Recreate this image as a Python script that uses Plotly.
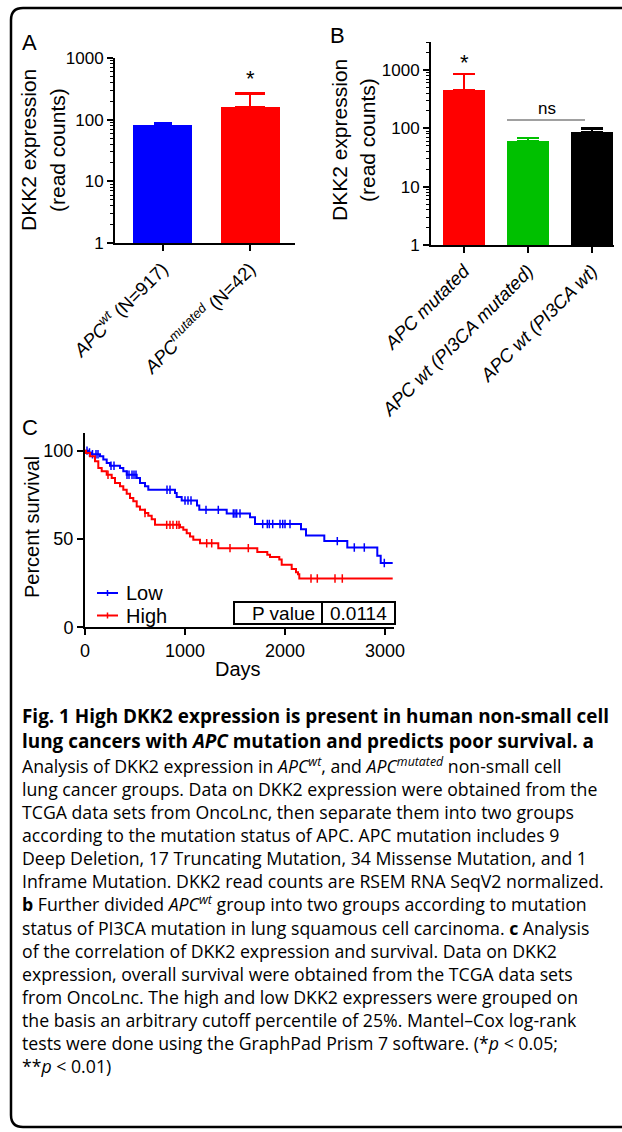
import numpy as np
import plotly.graph_objects as go

W, H = 622, 1132

# ---------------- data ----------------
A_categories = ["<i>APC<sup>wt</sup></i> (N=917)", "<i>APC<sup>mutated</sup></i> (N=42)"]
A_values = [82, 161]
A_err_upper = [7, 104]
A_colors = ["#0000FF", "#FF0000"]

B_categories = ["<i>APC mutated</i>", "<i>APC wt (PI3CA mutated)</i>", "<i>APC wt (PI3CA wt)</i>"]
B_values = [454, 60, 86]
B_err_upper = [396, 8, 14]
B_colors = ["#FF0000", "#00C000", "#000000"]

log_tickvals = [1, 10, 100, 1000]
log_ticktext = ["1", "10", "100", "1000"]

low_days = [0, 30, 60, 150, 183, 217, 250, 350, 383, 417, 517, 550, 600, 633, 900, 917,
            967, 1120, 1143, 1417, 1650, 1700, 2160, 2210, 2393, 2623, 2923, 2957, 3077]
low_surv = [100, 99, 98, 96.8, 95, 93, 91.5, 90.2, 88.3, 86.4, 84.5, 81.7, 79.8, 77.9, 76, 73.7,
            71.8, 69, 66.5, 64.4, 62.3, 58.5, 55.5, 52, 48.8, 45.2, 40.5, 36.4, 36.4]
low_censored = [20, 45, 75, 110, 130, 260, 290, 420, 440, 470, 490, 510, 820, 850, 1000, 1030,
                1060, 1210, 1333, 1483, 1500, 1517, 1550, 1777, 1823, 1843, 1877, 1950, 1977,
                2000, 2050, 2523, 2693, 2793, 2993]

high_days = [0, 10, 50, 100, 133, 167, 217, 267, 300, 350, 383, 417, 450, 483, 517, 550, 600,
             633, 667, 700, 950, 983, 1017, 1050, 1083, 1150, 1333, 1723, 1823, 1850, 1943,
             1967, 2067, 2110, 2130, 2143, 3077]
high_surv = [100, 98.7, 96.8, 94, 90.2, 88.3, 86.4, 84.5, 81.7, 79.8, 77.9, 75.6, 73.2, 71.3,
             68.4, 66.5, 64.7, 63.1, 61.2, 58, 56.7, 55.2, 53.3, 51.4, 49.5, 47.6, 44.8, 42.6,
             41.1, 39.8, 38.4, 35.4, 33, 31.1, 30.1, 27.6, 27.6]
high_censored = [230, 600, 817, 850, 880, 917, 940, 1217, 1267, 1450, 1633, 2260, 2323, 2500, 2573]

C_series = ["Low", "High"]
C_colors = ["#0000FF", "#FF0000"]
p_value_label = "P value"
p_value = "0.0114"

caption_title_lines = [
    "<b>Fig. 1 High DKK2 expression is present in human non-small cell</b>",
    "<b>lung cancers with <i>APC</i> mutation and predicts poor survival. a</b>",
]
caption_body_lines = [
    "Analysis of DKK2 expression in <i>APC<sup>wt</sup></i>, and <i>APC<sup>mutated</sup></i> non-small cell",
    "lung cancer groups. Data on DKK2 expression were obtained from the",
    "TCGA data sets from OncoLnc, then separate them into two groups",
    "according to the mutation status of APC. APC mutation includes 9",
    "Deep Deletion, 17 Truncating Mutation, 34 Missense Mutation, and 1",
    "Inframe Mutation. DKK2 read counts are RSEM RNA SeqV2 normalized.",
    "<b>b</b> Further divided <i>APC<sup>wt</sup></i> group into two groups according to mutation",
    "status of PI3CA mutation in lung squamous cell carcinoma. <b>c</b> Analysis",
    "of the correlation of DKK2 expression and survival. Data on DKK2",
    "expression, overall survival were obtained from the TCGA data sets",
    "from OncoLnc. The high and low DKK2 expressers were grouped on",
    "the basis an arbitrary cutoff percentile of 25%. Mantel–Cox log-rank",
    "tests were done using the GraphPad Prism 7 software. (*<i>p</i> < 0.05;",
    "**<i>p</i> < 0.01)",
]


def fx(x):
    return x / W


def fy(y):
    return 1 - y / H


def step_value(days, surv, t):
    d = np.asarray(days)
    s = np.asarray(surv)
    idx = np.searchsorted(d, t, side="right") - 1
    return s[idx]


PLOT_FONT = "Liberation Sans, Arial, sans-serif"
CAP_FONT = "Open Sans, sans-serif"

fig = go.Figure()

# Panel A bars
for i, (v, e, c, cw) in enumerate(zip(A_values, A_err_upper, A_colors, [9, 15])):
    fig.add_trace(go.Bar(
        x=[i], y=[v], width=0.674, marker=dict(color=c, line=dict(width=0)),
        error_y=dict(type="data", symmetric=False, array=[e], arrayminus=[0],
                     color=c, thickness=2.5, width=cw),
        xaxis="x", yaxis="y", showlegend=False, hoverinfo="skip"))

# Panel B bars
for i, (v, e, c) in enumerate(zip(B_values, B_err_upper, B_colors)):
    fig.add_trace(go.Bar(
        x=[i], y=[v], width=0.664, marker=dict(color=c, line=dict(width=0)),
        error_y=dict(type="data", symmetric=False, array=[e], arrayminus=[0],
                     color=c, thickness=2.5, width=11),
        xaxis="x2", yaxis="y2", showlegend=False, hoverinfo="skip"))

# Panel C survival curves
for days, surv, cens, col in [(low_days, low_surv, low_censored, C_colors[0]),
                              (high_days, high_surv, high_censored, C_colors[1])]:
    fig.add_trace(go.Scatter(x=days, y=surv, mode="lines",
                             line=dict(color=col, width=2, shape="hv"),
                             xaxis="x3", yaxis="y3", showlegend=False, hoverinfo="skip"))
    fig.add_trace(go.Scatter(x=cens, y=step_value(days, surv, cens), mode="markers",
                             marker=dict(symbol="line-ns", size=6, color=col,
                                         line=dict(width=1.5, color=col)),
                             xaxis="x3", yaxis="y3", showlegend=False, hoverinfo="skip"))

axis_common = dict(showline=True, linecolor="black", linewidth=2, ticks="outside",
                   ticklen=6, tickwidth=2, tickcolor="black", showgrid=False, zeroline=False,
                   color="black", automargin=False)

log_minor = dict(ticks="outside", ticklen=3, tickwidth=1, tickcolor="black", dtick="D1",
                 showgrid=False)

fig.update_layout(
    width=W, height=H, margin=dict(l=0, r=0, t=0, b=0, pad=0),
    paper_bgcolor="white", plot_bgcolor="rgba(0,0,0,0)",
    font=dict(family=PLOT_FONT, color="black", size=17),
    bargap=0,
    xaxis=dict(domain=[fx(115), fx(295)], range=[-0.543, 1.514], tickvals=[0, 1],
               ticktext=A_categories, tickangle=-45, tickfont=dict(size=18.5),
               anchor="y", **axis_common),
    yaxis=dict(domain=[fy(243), fy(58)], type="log", range=[0, 3], tickvals=log_tickvals,
               ticktext=log_ticktext, tickfont=dict(size=17), anchor="x",
               minor=log_minor, **axis_common),
    xaxis2=dict(domain=[fx(431), fx(614)], range=[-0.516, 2.344], tickvals=[0, 1, 2],
                ticktext=B_categories, tickangle=-45, tickfont=dict(size=18.5),
                anchor="y2", **axis_common),
    yaxis2=dict(domain=[fy(245), fy(42)], type="log", range=[0, 3.48], tickvals=log_tickvals,
                ticktext=log_ticktext, tickfont=dict(size=17), anchor="x2",
                minor=log_minor, **axis_common),
    xaxis3=dict(domain=[fx(85), fx(394)], range=[0, 3090], tickvals=[0, 1000, 2000, 3000],
                tickfont=dict(size=18), anchor="y3", **axis_common),
    yaxis3=dict(domain=[fy(627.3), fy(433)], range=[0, 110], tickvals=[0, 50, 100],
                tickfont=dict(size=18), anchor="x3", **axis_common),
)

ann = []
shapes = []


def text(x, y, s, size=17, xanchor="center", yanchor="middle", angle=0, family=PLOT_FONT,
         align="center"):
    ann.append(dict(x=fx(x), y=fy(y), xref="paper", yref="paper", text=s, showarrow=False,
                    xanchor=xanchor, yanchor=yanchor, textangle=angle, align=align,
                    borderpad=0, font=dict(family=family, size=size, color="black")))


# panel letters
text(30, 42, "A", size=22)
text(337, 35, "B", size=22)
text(30, 427, "C", size=22)

# axis titles
text(28, 150, "DKK2 expression", size=21, angle=-90)
text(57, 150, "(read counts)", size=21, angle=-90)
text(339, 140, "DKK2 expression", size=21, angle=-90)
text(367, 140, "(read counts)", size=21, angle=-90)
text(32, 527, "Percent survival", size=20, angle=-90)
text(238, 669, "Days", size=20)

# significance marks
text(250, 78, "*", size=22)
text(464, 63, "*", size=22)
text(547, 108, "ns", size=17)
shapes.append(dict(type="line", xref="paper", yref="paper", x0=fx(507), x1=fx(585),
                   y0=fy(120), y1=fy(120), line=dict(color="#808080", width=1.5)))

# legend for C
for k, (name, col) in enumerate(zip(C_series, C_colors)):
    yy = 593 + k * 22.5
    shapes.append(dict(type="line", xref="paper", yref="paper", x0=fx(97), x1=fx(118),
                       y0=fy(yy), y1=fy(yy), line=dict(color=col, width=2)))
    shapes.append(dict(type="line", xref="paper", yref="paper", x0=fx(107.5), x1=fx(107.5),
                       y0=fy(yy - 3), y1=fy(yy + 3), line=dict(color=col, width=1.5)))
    text(125, yy, name, size=20, xanchor="left")

# P value table
shapes.append(dict(type="rect", xref="paper", yref="paper", x0=fx(234), x1=fx(395),
                   y0=fy(624), y1=fy(602), line=dict(color="black", width=2)))
shapes.append(dict(type="line", xref="paper", yref="paper", x0=fx(322), x1=fx(322),
                   y0=fy(624), y1=fy(602), line=dict(color="black", width=2)))
text(316, 613, p_value_label, size=19, xanchor="right")
text(329, 613, p_value, size=19, xanchor="left")

# frame
r = 12
L, T, B, R = 11, 8, 1127, 640
path = (f"M {fx(R)} {fy(T)} L {fx(L + r)} {fy(T)} Q {fx(L)} {fy(T)} {fx(L)} {fy(T + r)} "
        f"L {fx(L)} {fy(B - r)} Q {fx(L)} {fy(B)} {fx(L + r)} {fy(B)} L {fx(R)} {fy(B)}")
shapes.append(dict(type="path", xref="paper", yref="paper", path=path,
                   line=dict(color="black", width=2.5)))

# caption (two blocks of multi-line text)
title_size = 18.9
body_size = 17.7
text(21, 702, "<br>".join(caption_title_lines), size=title_size, xanchor="left",
     yanchor="top", family=CAP_FONT, align="left")
text(21, 751.5, "<br>".join(caption_body_lines), size=body_size, xanchor="left",
     yanchor="top", family=CAP_FONT, align="left")

fig.update_layout(annotations=ann, shapes=shapes)
fig.write_html("out.html", config={"displayModeBar": False},
               post_script="document.body.style.margin='0';document.body.style.overflow='hidden';")
